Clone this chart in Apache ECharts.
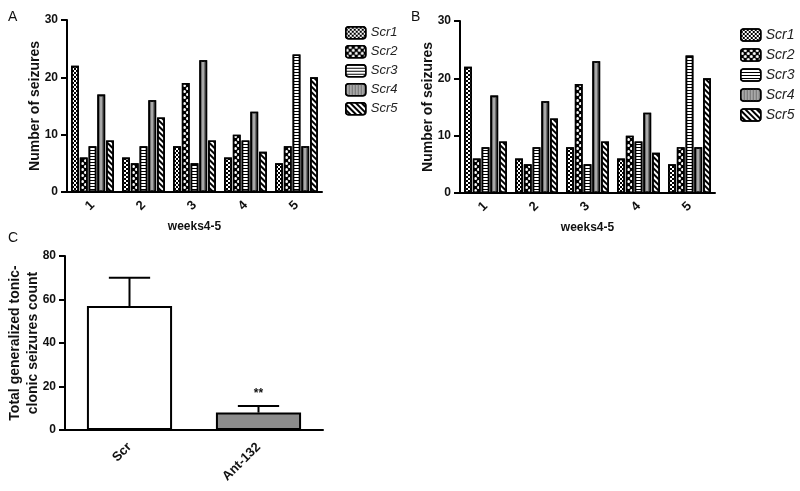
<!DOCTYPE html>
<html>
<head>
<meta charset="utf-8">
<script src="https://cdn.jsdelivr.net/npm/echarts@6/dist/echarts.min.js"></script>
<style>
html,body{margin:0;padding:0;background:#fff;}
#chart{width:800px;height:491px;}
</style>
</head>
<body>
<div id="chart"></div>
<script>
// ---------- data ----------
const weeks = ['1', '2', '3', '4', '5'];
const seriesNames = ['Scr1', 'Scr2', 'Scr3', 'Scr4', 'Scr5'];
const scr1 = [22, 6, 8, 6, 5];
const scr2 = [6, 5, 19, 10, 8];
const scr3 = [8, 8, 5, 9, 24];
const scr4 = [17, 16, 23, 14, 8];
const scr5 = [9, 13, 9, 7, 20];
const groupValues = [scr1, scr2, scr3, scr4, scr5];

const cCategories = ['Scr', 'Ant-132'];
const cMeans = [57, 8];
const cUpper = [70, 11];
const cSignif = ['', '**'];

// ---------- styles ----------
const FONT = "'Liberation Sans', Arial, sans-serif";
const patterns = [
  { color: '#ffffff', decal: { symbol: 'rect', symbolSize: 1, color: '#000', dashArrayX: [[1.5, 1.5], [0, 1.5, 1.5, 0]], dashArrayY: [1.5, 0] } },
  { color: '#000000', decal: { symbol: 'circle', symbolSize: 1, color: '#fff', dashArrayX: [[3, 3], [0, 3, 3, 0]], dashArrayY: [3, 0] } },
  { color: '#ffffff', decal: { symbol: 'rect', symbolSize: 1, color: '#000', dashArrayX: [1, 0], dashArrayY: [1, 1.5] } },
  { color: '#a8a8a8', decal: { symbol: 'rect', symbolSize: 1, color: '#707070', dashArrayX: [1, 2], dashArrayY: [1, 0] } },
  { color: '#ffffff', decal: { symbol: 'rect', symbolSize: 1, color: '#000', dashArrayX: [1, 0], dashArrayY: [1.3, 1.5], rotation: Math.PI / 4 } }
];

function catAxis(gridIndex, data, extra) {
  return Object.assign({
    type: 'category', gridIndex: gridIndex, data: data,
    axisLine: { lineStyle: { color: '#000', width: 2 } },
    axisTick: { alignWithLabel: true, length: 5, lineStyle: { color: '#000', width: 2 } },
    axisLabel: { rotate: 45, color: '#111', fontWeight: 'bold', fontSize: 13, fontFamily: FONT, margin: 11 },
    nameTextStyle: { color: '#111', fontWeight: 'bold', fontSize: 12, fontFamily: FONT }
  }, extra || {});
}
function valAxis(gridIndex, max, interval, name, nameGap, nameSize) {
  return {
    type: 'value', gridIndex: gridIndex, min: 0, max: max, interval: interval,
    name: name, nameLocation: 'middle', nameGap: nameGap, nameMoveOverlap: false,
    nameTextStyle: { color: '#111', fontWeight: 'bold', fontSize: nameSize, fontFamily: FONT, lineHeight: 18 },
    splitLine: { show: false },
    axisLine: { show: true, lineStyle: { color: '#000', width: 2 } },
    axisTick: { show: true, length: 6, lineStyle: { color: '#000', width: 2 } },
    axisLabel: { color: '#111', fontWeight: 'bold', fontSize: 12, fontFamily: FONT, margin: 9 }
  };
}

const series = [];
[0, 1].forEach(function (g) {
  groupValues.forEach(function (vals, i) {
    series.push({
      type: 'bar', name: seriesNames[i], xAxisIndex: g, yAxisIndex: g,
      data: vals,
      barCategoryGap: '16%', barGap: '12%',
      itemStyle: { color: patterns[i].color, decal: patterns[i].decal, borderColor: '#000', borderWidth: 1.6 },
      emphasis: { disabled: true }
    });
  });
});

series.push({
  type: 'bar', xAxisIndex: 2, yAxisIndex: 2, barWidth: '66%',
  data: cMeans.map(function (v, i) {
    return { value: v, itemStyle: { color: i === 0 ? '#ffffff' : '#8c8c8c' } };
  }),
  itemStyle: { borderColor: '#000', borderWidth: 2 },
  emphasis: { disabled: true },
  z: 2
});
series.push({
  type: 'custom', xAxisIndex: 2, yAxisIndex: 2, z: 3,
  data: cMeans.map(function (v, i) { return [i, v, cUpper[i]]; }),
  renderItem: function (params, api) {
    const x = api.value(0);
    const lo = api.coord([x, api.value(1)]);
    const hi = api.coord([x, api.value(2)]);
    const half = api.size([1, 0])[0] * 0.16;
    const children = [
      { type: 'line', shape: { x1: lo[0], y1: lo[1], x2: hi[0], y2: hi[1] }, style: { stroke: '#000', lineWidth: 2 } },
      { type: 'line', shape: { x1: hi[0] - half, y1: hi[1], x2: hi[0] + half, y2: hi[1] }, style: { stroke: '#000', lineWidth: 2 } }
    ];
    const s = cSignif[params.dataIndex];
    if (s) {
      children.push({ type: 'text', style: { text: s, x: hi[0], y: hi[1] - 12, align: 'center', verticalAlign: 'middle', fill: '#111', font: 'bold 12px ' + FONT } });
    }
    return { type: 'group', children: children };
  }
});

function legendAt(left, top, gap, size) {
  return {
    orient: 'vertical', left: left, top: top, itemWidth: 20, itemHeight: 12, itemGap: gap,
    data: seriesNames, selectedMode: false,
    itemStyle: { borderColor: '#000', borderWidth: 1.5 },
    textStyle: { fontStyle: 'italic', fontSize: size, fontFamily: FONT, color: '#222' }
  };
}

const option = {
  animation: false,
  backgroundColor: '#fff',
  textStyle: { fontFamily: FONT },
  grid: [
    { left: 67, top: 20, width: 255, height: 172 },
    { left: 460, top: 21, width: 255, height: 172 },
    { left: 65, top: 256, width: 258, height: 174 }
  ],
  xAxis: [
    catAxis(0, weeks, { name: 'weeks4-5', nameLocation: 'middle', nameGap: 29 }),
    catAxis(1, weeks, { name: 'weeks4-5', nameLocation: 'middle', nameGap: 29 }),
    catAxis(2, cCategories, { axisLabel: { rotate: 45, color: '#111', fontWeight: 'bold', fontSize: 13, fontFamily: FONT, margin: 15 } })
  ],
  yAxis: [
    valAxis(0, 30, 10, 'Number of seizures', 23, 14),
    valAxis(1, 30, 10, 'Number of seizures', 23, 14),
    valAxis(2, 80, 20, 'Total generalized tonic-\nclonic seizures count', 23, 14)
  ],
  legend: [legendAt(340, 21, 5.5, 13), legendAt(735, 23, 6, 14)],
  graphic: [
    { type: 'text', left: 8, top: 10, style: { text: 'A', font: '14px ' + FONT, fill: '#111' } },
    { type: 'text', left: 411, top: 10, style: { text: 'B', font: '14px ' + FONT, fill: '#111' } },
    { type: 'text', left: 8, top: 231, style: { text: 'C', font: '14px ' + FONT, fill: '#111' } }
  ],
  series: series
};

const chart = echarts.init(document.getElementById('chart'), null, { renderer: 'canvas' });
chart.setOption(option);
</script>
</body>
</html>
